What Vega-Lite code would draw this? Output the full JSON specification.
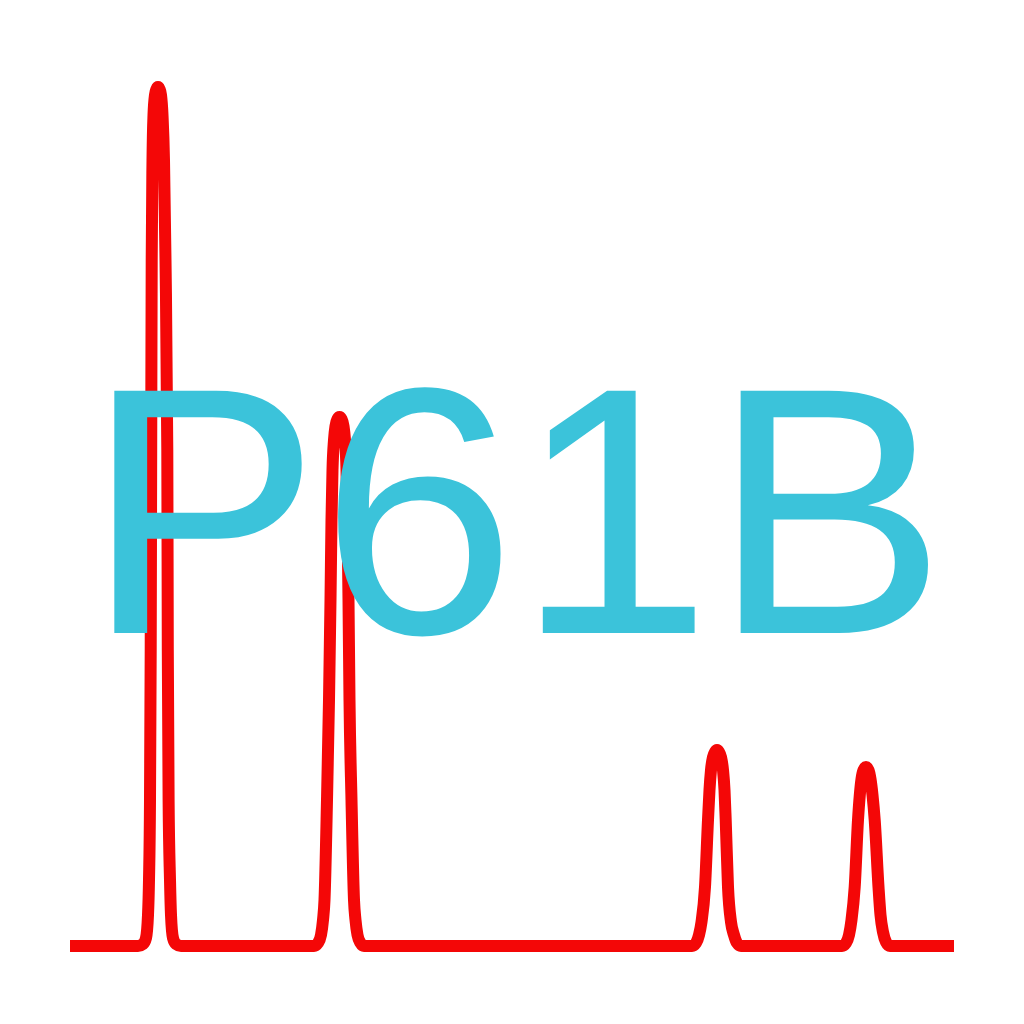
{
  "$schema": "https://vega.github.io/schema/vega-lite/v6.json",
  "width": 1024,
  "height": 1024,
  "autosize": {"type": "fit", "contains": "padding"},
  "padding": 0,
  "background": "white",
  "config": {"view": {"stroke": null}},
  "datasets": {
    "trace": [
      {"t": 70, "v": 0}, {"t": 138, "v": 0}, {"t": 143, "v": 2}, {"t": 146, "v": 8},
      {"t": 148, "v": 31}, {"t": 149, "v": 66}, {"t": 150, "v": 146}, {"t": 150.7, "v": 296},
      {"t": 151.2, "v": 496}, {"t": 151.7, "v": 686}, {"t": 152.5, "v": 786}, {"t": 153.5, "v": 831},
      {"t": 155, "v": 851}, {"t": 156.5, "v": 857}, {"t": 158, "v": 859}, {"t": 159.5, "v": 857},
      {"t": 161, "v": 851}, {"t": 162.5, "v": 831}, {"t": 164, "v": 786}, {"t": 165.5, "v": 686},
      {"t": 167.3, "v": 496}, {"t": 167.8, "v": 296}, {"t": 168.6, "v": 146}, {"t": 170, "v": 66},
      {"t": 171, "v": 31}, {"t": 173, "v": 8}, {"t": 176, "v": 2}, {"t": 181, "v": 0},
      {"t": 314, "v": 0}, {"t": 318, "v": 3}, {"t": 321, "v": 11}, {"t": 323, "v": 26},
      {"t": 324.5, "v": 46}, {"t": 327, "v": 146}, {"t": 329, "v": 246}, {"t": 330.5, "v": 346},
      {"t": 331.5, "v": 426}, {"t": 332.5, "v": 476}, {"t": 334, "v": 506}, {"t": 335.5, "v": 520},
      {"t": 337.5, "v": 527}, {"t": 339.5, "v": 529}, {"t": 341.5, "v": 527}, {"t": 343.5, "v": 520},
      {"t": 345, "v": 506}, {"t": 346.5, "v": 476}, {"t": 347.5, "v": 426}, {"t": 348.5, "v": 346},
      {"t": 349.5, "v": 246}, {"t": 351.5, "v": 146}, {"t": 354, "v": 46}, {"t": 355.5, "v": 26},
      {"t": 357.5, "v": 11}, {"t": 360.5, "v": 3}, {"t": 364, "v": 0},
      {"t": 692, "v": 0}, {"t": 696, "v": 3}, {"t": 699, "v": 11}, {"t": 701.5, "v": 24},
      {"t": 705, "v": 59}, {"t": 708, "v": 126}, {"t": 709.5, "v": 156}, {"t": 711, "v": 176},
      {"t": 713, "v": 189}, {"t": 715, "v": 194}, {"t": 717, "v": 196}, {"t": 719, "v": 194},
      {"t": 721, "v": 189}, {"t": 723, "v": 176}, {"t": 724.5, "v": 156}, {"t": 725.7, "v": 126},
      {"t": 728, "v": 59}, {"t": 731, "v": 24}, {"t": 734, "v": 11}, {"t": 737, "v": 3},
      {"t": 741, "v": 0},
      {"t": 842, "v": 0}, {"t": 846, "v": 3}, {"t": 849, "v": 11}, {"t": 851.5, "v": 26},
      {"t": 854.7, "v": 59}, {"t": 858, "v": 126}, {"t": 859.8, "v": 151}, {"t": 861.5, "v": 167},
      {"t": 863.5, "v": 176}, {"t": 866, "v": 179}, {"t": 868.5, "v": 176}, {"t": 870.5, "v": 167},
      {"t": 872.5, "v": 151}, {"t": 874.7, "v": 126}, {"t": 878.5, "v": 59}, {"t": 880.5, "v": 31},
      {"t": 883, "v": 14}, {"t": 886, "v": 4}, {"t": 890, "v": 0}, {"t": 954, "v": 0}
    ],
    "label": [{"t": 516, "v": 313, "name": "P61B"}]
  },
  "layer": [
    {
      "data": {"name": "trace"},
      "mark": {
        "type": "line",
        "color": "#f40707",
        "strokeWidth": 12,
        "strokeCap": "butt",
        "strokeJoin": "round",
        "interpolate": "monotone"
      },
      "encoding": {
        "x": {"field": "t", "type": "quantitative", "scale": {"domain": [0, 1024], "nice": false, "zero": false}, "axis": null},
        "y": {"field": "v", "type": "quantitative", "scale": {"domain": [-78, 946], "nice": false, "zero": false}, "axis": null}
      }
    },
    {
      "data": {"name": "label"},
      "mark": {
        "type": "text",
        "font": "Liberation Sans",
        "fontSize": 352,
        "color": "#3bc3da",
        "align": "center",
        "baseline": "alphabetic"
      },
      "encoding": {
        "x": {"field": "t", "type": "quantitative", "scale": {"domain": [0, 1024], "nice": false, "zero": false}, "axis": null},
        "y": {"field": "v", "type": "quantitative", "scale": {"domain": [-78, 946], "nice": false, "zero": false}, "axis": null},
        "text": {"field": "name", "type": "nominal"}
      }
    }
  ]
}
